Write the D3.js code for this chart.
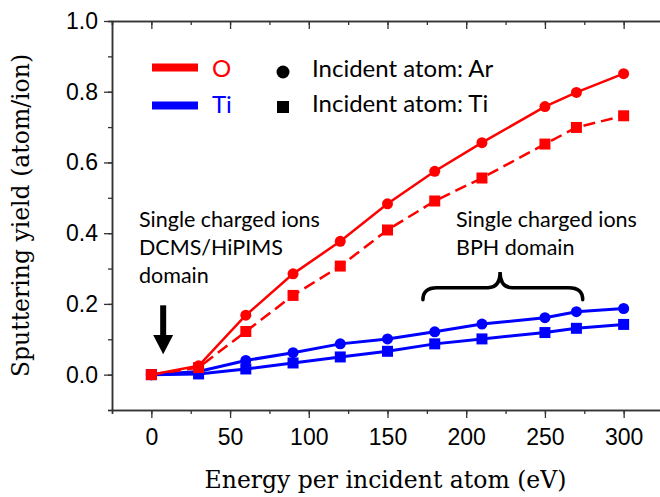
<!DOCTYPE html>
<html>
<head>
<meta charset="utf-8">
<script src="https://cdn.jsdelivr.net/npm/d3@7"></script>
<style>
  body { margin: 0; background: #fff; }
</style>
</head>
<body>
<div id="chart"></div>
<script>
// energies (eV)
let energy = [0, 30, 60, 90, 120, 150, 180, 210, 250, 270, 300];

// sputtering yields (atom/ion)
let oByAr = [0, 0.025, 0.168, 0.285, 0.377, 0.483, 0.575, 0.656, 0.758, 0.798, 0.851];
let oByTi = [0, 0.02, 0.122, 0.224, 0.307, 0.409, 0.491, 0.556, 0.652, 0.699, 0.732];
let tiByAr = [0, 0.009, 0.04, 0.062, 0.087, 0.101, 0.121, 0.143, 0.161, 0.178, 0.187];
let tiByTi = [0, 0.002, 0.016, 0.033, 0.05, 0.066, 0.087, 0.101, 0.119, 0.131, 0.142];

let xTicks = [0, 50, 100, 150, 200, 250, 300];
let yTicks = [0.0, 0.2, 0.4, 0.6, 0.8, 1.0];

let series = [
  { name: "Ti", incident: "Ti", values: tiByTi, color: "#0000ff", dash: null, width: 3 },
  { name: "Ti", incident: "Ar", values: tiByAr, color: "#0000ff", dash: null, width: 3 },
  { name: "O", incident: "Ti", values: oByTi, color: "#ff0000", dash: "12,6", width: 2.5 },
  { name: "O", incident: "Ar", values: oByAr, color: "#ff0000", dash: null, width: 2.5 }
];

let width = 660;
let height = 497;

let svg = d3.select("#chart").append("svg")
  .attr("width", width)
  .attr("height", height)
  .style("background", "#fff");

let x = d3.scaleLinear().domain([-25, 325]).range([112, 663]);
let y = d3.scaleLinear().domain([-0.1, 1.0]).range([410, 21]);

let axisColor = "#333";
let tickFont = "'Liberation Sans', Arial, sans-serif";
let textFont = "Lato, 'Open Sans', sans-serif";
let titleFont = "'DejaVu Serif', serif";

// minor ticks
function minorAxis(axis, values, size) {
  return axis.tickValues(values).tickSize(size).tickFormat("");
}

let xMinor = d3.range(-25, 326, 25);
let yMinor = d3.range(-0.1, 1.001, 0.1);

// bottom axis
svg.append("g")
  .attr("transform", `translate(0,${y(-0.1)})`)
  .call(minorAxis(d3.axisBottom(x), xMinor, 4));
let xAxis = svg.append("g")
  .attr("transform", `translate(0,${y(-0.1)})`)
  .call(d3.axisBottom(x).tickValues(xTicks).tickSize(8).tickSizeOuter(0).tickFormat(d3.format("d")));
xAxis.selectAll("text")
  .attr("y", 35)
  .attr("dy", 0)
  .style("font-family", tickFont)
  .style("font-size", "23px")
  .attr("fill", "#000");

// top axis
svg.append("g")
  .attr("transform", `translate(0,${y(1.0)})`)
  .call(minorAxis(d3.axisBottom(x), xMinor, 4));
svg.append("g")
  .attr("transform", `translate(0,${y(1.0)})`)
  .call(d3.axisBottom(x).tickValues(xTicks).tickSize(8).tickSizeOuter(0).tickFormat(""));

// left axis
svg.append("g")
  .attr("transform", `translate(${x(-25)},0)`)
  .call(minorAxis(d3.axisLeft(y), yMinor, 4));
let yAxis = svg.append("g")
  .attr("transform", `translate(${x(-25)},0)`)
  .call(d3.axisLeft(y).tickValues(yTicks).tickSize(8).tickSizeOuter(0).tickFormat(d3.format(".1f")));
yAxis.selectAll("text")
  .attr("x", -14)
  .style("font-family", tickFont)
  .style("font-size", "23px")
  .attr("fill", "#000");

// right axis
svg.append("g")
  .attr("transform", `translate(${x(325)},0)`)
  .call(minorAxis(d3.axisLeft(y), yMinor, -4));
svg.append("g")
  .attr("transform", `translate(${x(325)},0)`)
  .call(d3.axisLeft(y).tickValues(yTicks).tickSize(-8).tickSizeOuter(0).tickFormat(""));

svg.selectAll(".domain").attr("stroke", axisColor).attr("stroke-width", 1.5);
svg.selectAll(".tick line").attr("stroke", axisColor).attr("stroke-width", 1.3);

// axis titles
svg.append("text")
  .attr("x", (x(-25) + x(325)) / 2 - 2)
  .attr("y", 488)
  .attr("text-anchor", "middle")
  .style("font-family", titleFont)
  .style("font-size", "23.5px")
  .text("Energy per incident atom (eV)");

svg.append("text")
  .attr("transform", `translate(29,${(y(-0.1) + y(1.0)) / 2}) rotate(-90)`)
  .attr("text-anchor", "middle")
  .style("font-family", titleFont)
  .style("font-size", "23.5px")
  .text("Sputtering yield (atom/ion)");

// lines and markers
let line = d3.line()
  .x(function (d) { return x(d[0]); })
  .y(function (d) { return y(d[1]); });

let markerSize = 11;

series.forEach(function (s) {
  let pts = energy.map(function (e, i) { return [e, s.values[i]]; });
  svg.append("path")
    .datum(pts)
    .attr("fill", "none")
    .attr("stroke", s.color)
    .attr("stroke-width", s.width)
    .attr("stroke-dasharray", s.dash)
    .attr("d", line);

  if (s.incident === "Ar") {
    svg.selectAll(null)
      .data(pts)
      .enter()
      .append("circle")
      .attr("cx", function (d) { return x(d[0]); })
      .attr("cy", function (d) { return y(d[1]); })
      .attr("r", markerSize / 2)
      .attr("fill", s.color);
  }
  else {
    svg.selectAll(null)
      .data(pts)
      .enter()
      .append("rect")
      .attr("x", function (d) { return x(d[0]) - markerSize / 2; })
      .attr("y", function (d) { return y(d[1]) - markerSize / 2; })
      .attr("width", markerSize)
      .attr("height", markerSize)
      .attr("fill", s.color);
  }
});

// legend: target colours
let legendColors = [
  { label: "O", color: "#ff0000", y: 67.5, base: 76.5 },
  { label: "Ti", color: "#0000ff", y: 105.5, base: 112.5 }
];
legendColors.forEach(function (d) {
  svg.append("line")
    .attr("x1", 152).attr("x2", 198)
    .attr("y1", d.y).attr("y2", d.y)
    .attr("stroke", d.color)
    .attr("stroke-width", 8);
  svg.append("text")
    .attr("x", 212)
    .attr("y", d.base)
    .attr("fill", d.color)
    .style("font-family", textFont)
    .style("font-size", "24px")
    .text(d.label);
});

// legend: incident atom
svg.append("circle").attr("cx", 283).attr("cy", 72).attr("r", 6.5).attr("fill", "#000");
svg.append("rect").attr("x", 277).attr("y", 101).attr("width", 12).attr("height", 12).attr("fill", "#000");
let legendMarkers = [
  { label: "Incident atom: Ar", base: 77 },
  { label: "Incident atom: Ti", base: 111.5 }
];
legendMarkers.forEach(function (d) {
  svg.append("text")
    .attr("x", 312)
    .attr("y", d.base)
    .style("font-family", textFont)
    .style("font-size", "24px")
    .text(d.label);
});

// annotations
let noteLeft = ["Single charged ions", "DCMS/HiPIMS", "domain"];
let noteRight = ["Single charged ions", "BPH domain"];

function note(lines, x0) {
  svg.append("g").selectAll("text")
    .data(lines)
    .enter()
    .append("text")
    .attr("x", x0)
    .attr("y", function (d, i) { return 227 + i * 28; })
    .style("font-family", textFont)
    .style("font-size", "21.5px")
    .text(function (d) { return d; });
}
note(noteLeft, 139);
note(noteRight, 456);

// arrow pointing at 0 eV (data units)
let arrowX = 7.5;
let arrowTop = 0.196;
let arrowNeck = 0.112;
let arrowTip = 0.058;
svg.append("rect")
  .attr("x", x(arrowX) - 3)
  .attr("y", y(arrowTop))
  .attr("width", 6)
  .attr("height", y(arrowNeck) - y(arrowTop) + 1);
svg.append("path")
  .attr("d", `M${x(arrowX) - 10},${y(arrowNeck)} L${x(arrowX) + 10},${y(arrowNeck)} L${x(arrowX)},${y(arrowTip)} Z`)
  .attr("fill", "#000");

// brace over the BPH range (data units)
let braceX0 = 172.5;
let braceX1 = 274;
let braceMid = 221.5;
let braceEnd = 0.212;
let braceBar = 0.246;
let braceTip = 0.29;
let bx0 = x(braceX0), bx1 = x(braceX1), bm = x(braceMid);
let yEnd = y(braceEnd), yBar = y(braceBar), yTip = y(braceTip);
svg.append("path")
  .attr("d", `M${bx0},${yEnd} Q${bx0},${yBar} ${bx0 + 14},${yBar}`
    + ` L${bm - 12},${yBar} Q${bm},${yBar} ${bm},${yTip}`
    + ` Q${bm},${yBar} ${bm + 12},${yBar}`
    + ` L${bx1 - 14},${yBar} Q${bx1},${yBar} ${bx1},${yEnd}`)
  .attr("fill", "none")
  .attr("stroke", "#000")
  .attr("stroke-width", 3.5)
  .attr("stroke-linecap", "round");
</script>
</body>
</html>
